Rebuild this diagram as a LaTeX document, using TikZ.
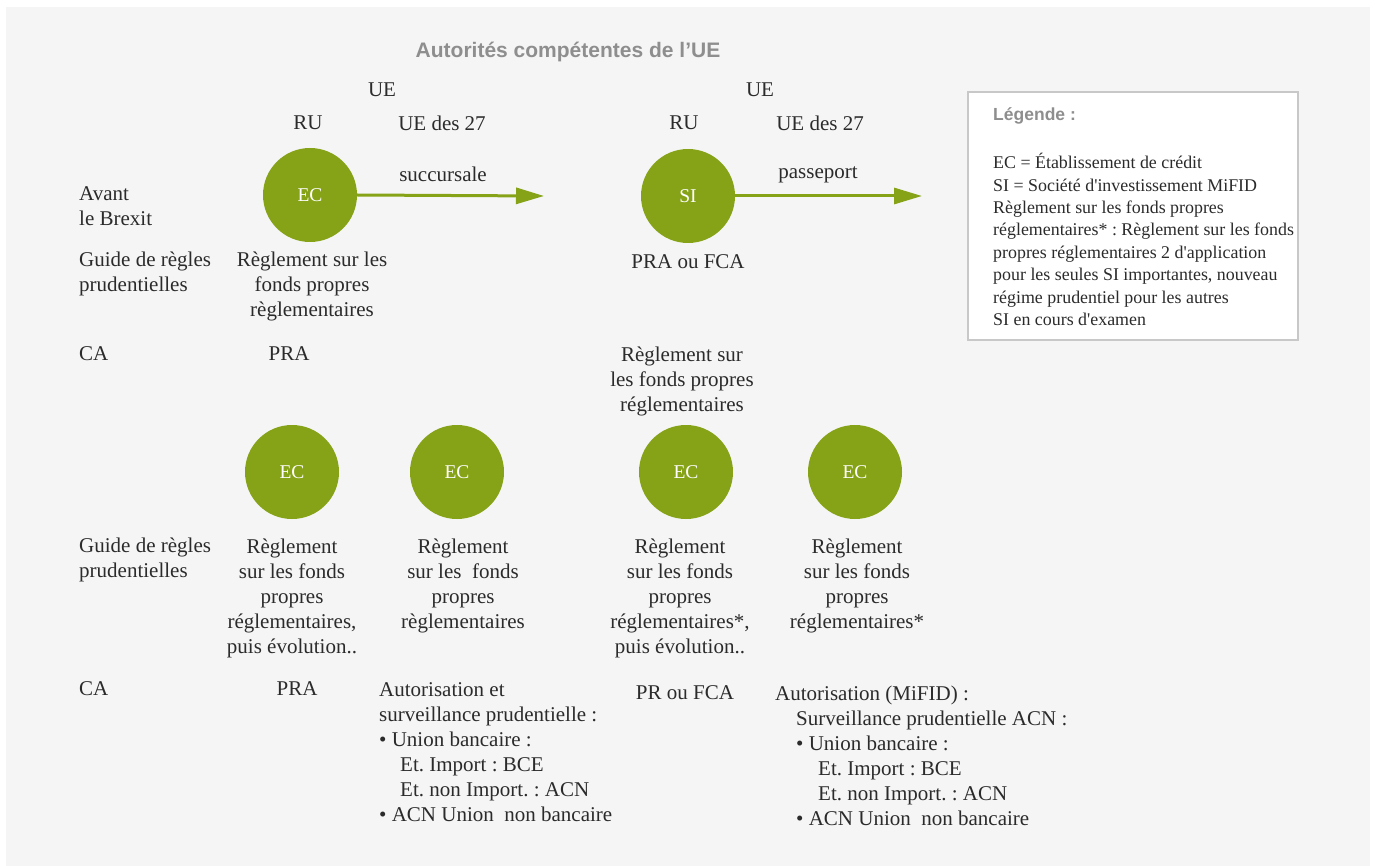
\documentclass[tikz,border=0pt]{standalone}
\usepackage{fontspec}
\setmainfont{Liberation Serif}
\newfontfamily\titlefont{Liberation Sans}
\usetikzlibrary{arrows.meta}
\definecolor{bg}{HTML}{F5F5F5}
\definecolor{grn}{HTML}{86A318}
\definecolor{txt}{HTML}{2B2B2B}
\definecolor{ttl}{HTML}{8E8E8E}
\definecolor{lgborder}{HTML}{C8C8C8}
\frenchspacing
\begin{document}
\begin{tikzpicture}[x=1pt,y=-1pt,
 lbl/.style={inner sep=0pt, text=txt, font=\fontsize{21}{25}\selectfont, align=center},
 lft/.style={lbl, anchor=west, align=left},
 circ/.style={circle, fill=grn, minimum size=94pt, inner sep=0pt, text=white, font=\fontsize{19.5}{22}\selectfont},
 arr/.style={draw=grn, line width=3pt, -{Triangle[length=28pt,width=16pt]}},
 lgd/.style={inner sep=0pt, text=txt, anchor=west, align=left, font=\fontsize{17.9}{22.4}\selectfont},
]
\useasboundingbox (0,0) rectangle (1375,866);
\fill[white] (0,0) rectangle (1375,866);
\fill[bg] (6,7) rectangle (1370,866);

% title
\node[inner sep=0pt, text=ttl, font=\titlefont\bfseries\fontsize{21}{24}\selectfont] (title) at (568,52) {Autorités compétentes de l’UE};

% headers
\node[lbl] (ue1) at (382,90) {UE};
\node[lbl] (ru1) at (308,123) {RU};
\node[lbl] (ue27a) at (442,123) {UE des 27};
\node[lbl] (ue2) at (760,90) {UE};
\node[lbl] (ru2) at (684,123) {RU};
\node[lbl] (ue27b) at (820,123) {UE des 27};

% left labels
\node[lft] (avant) at (79,206) {Avant\\le Brexit};
\node[lft] (guide1) at (79,274) {Guide de règles\\prudentielles};
\node[lft] (ca1) at (79,354) {CA};
\node[lft] (guide2) at (79,560) {Guide de règles\\prudentielles};
\node[lft] (ca2) at (79,689) {CA};

% top row
\node[circ] (ec1) at (310,195) {EC};
\coordinate (t1) at (544,196);
\draw[arr] (ec1.east) -- (t1);
\node[lbl] (succ) at (443,174) {succursale};
\node[lbl] (reg1) at (312,286) {Règlement sur les\\fonds propres\\règlementaires};
\node[lbl] (pra1) at (289,354) {PRA};

\node[circ] (si) at (688,196) {SI};
\coordinate (t2) at (922,196);
\draw[arr] (si.east) -- (t2);
\node[lbl] (pass) at (818,175) {passeport};
\node[lbl] (prafca) at (688,262) {PRA ou FCA};
\node[lbl] (reg2) at (682,381) {Règlement sur\\les fonds propres\\réglementaires};

% legend
\node[draw=lgborder, fill=white, line width=1.2pt, minimum width=330pt, minimum height=248pt, inner sep=0pt] (legend) at (1133,216) {};
\node[inner sep=0pt, anchor=west, text=ttl, font=\titlefont\bfseries\fontsize{17.5}{20}\selectfont] (lgtitle) at (993,116) {Légende :};
\node[lgd] (lgtext) at (993,239.5) {EC = Établissement de crédit\\SI = Société d\textquotesingle investissement MiFID\\Règlement sur les fonds propres\\réglementaires* : Règlement sur les fonds\\propres réglementaires 2 d\textquotesingle application\\pour les seules SI importantes, nouveau\\régime prudentiel pour les autres\\SI en cours d\textquotesingle examen};

% bottom row circles
\node[circ] (ec2) at (292,472) {EC};
\node[circ] (ec3) at (457,472) {EC};
\node[circ] (ec4) at (686,472) {EC};
\node[circ] (ec5) at (855,472) {EC};

\node[lbl] (r2) at (292,598) {Règlement\\sur les fonds\\propres\\réglementaires,\\puis évolution..};
\node[lbl] (r3) at (463,585.5) {Règlement\\sur les\ \ fonds\\propres\\règlementaires};
\node[lbl] (r4) at (680,598) {Règlement\\sur les fonds\\propres\\réglementaires*,\\puis évolution..};
\node[lbl] (r5) at (857,585.5) {Règlement\\sur les fonds\\propres\\réglementaires*};

\node[lbl] (pra2) at (297,689) {PRA};
\node[lbl] (prfca) at (685,693) {PR ou FCA};

\node[lft] (auth1) at (379,752.5) {Autorisation et\\surveillance prudentielle :\\• Union bancaire :\\\hspace*{21pt}Et. Import : BCE\\\hspace*{21pt}Et. non Import. : ACN\\• ACN Union\ \ non bancaire};
\node[lft] (auth2) at (775,756) {Autorisation (MiFID) :\\\hspace*{21pt}Surveillance prudentielle ACN :\\\hspace*{21pt}• Union bancaire :\\\hspace*{43pt}Et. Import : BCE\\\hspace*{43pt}Et. non Import. : ACN\\\hspace*{21pt}• ACN Union\ \ non bancaire};
\end{tikzpicture}
\end{document}
